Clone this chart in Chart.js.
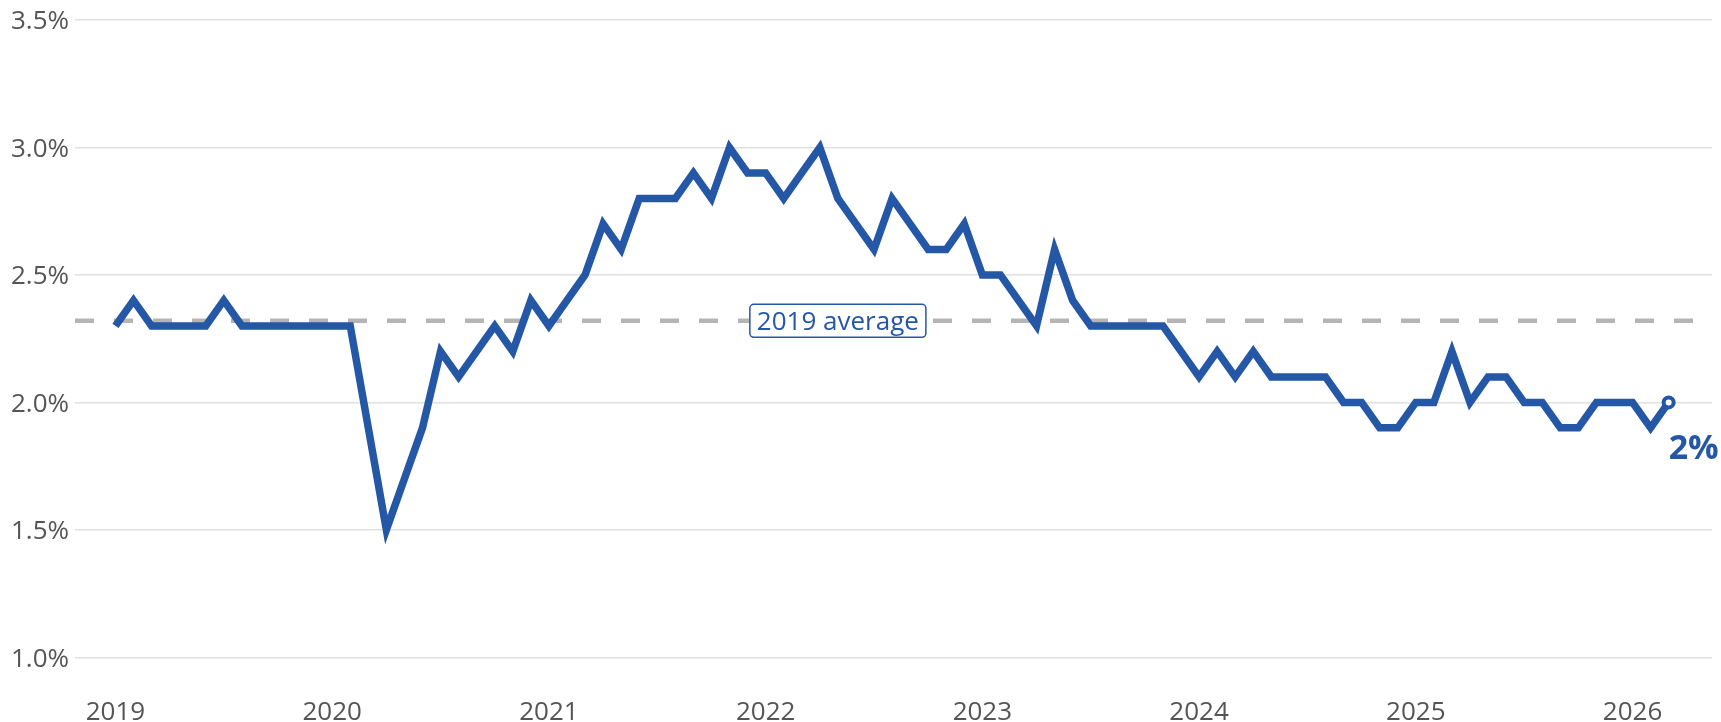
<!DOCTYPE html>
<html>
<head>
<meta charset="utf-8">
<title>Monthly rate since 2019</title>
<script src="https://cdn.jsdelivr.net/npm/chart.js@4.4.1/dist/chart.umd.min.js"></script>
<style>
  html, body { margin: 0; padding: 0; background: #fff; }
  #wrap { width: 1721px; height: 722px; }
</style>
</head>
<body>
<div id="wrap"><canvas id="chart" width="1721" height="722"></canvas></div>
<script>
// ====== DATA (monthly, Jan 2019 .. Mar 2026) ======
const YEAR_LABELS = ['2019', '2020', '2021', '2022', '2023', '2024', '2025', '2026'];
const V2019 = [2.3, 2.4, 2.3, 2.3, 2.3, 2.3, 2.4, 2.3, 2.3, 2.3, 2.3, 2.3];
const V2020 = [2.3, 2.3, 1.9, 1.5, 1.7, 1.9, 2.2, 2.1, 2.2, 2.3, 2.2, 2.4];
const V2021 = [2.3, 2.4, 2.5, 2.7, 2.6, 2.8, 2.8, 2.8, 2.9, 2.8, 3.0, 2.9];
const V2022 = [2.9, 2.8, 2.9, 3.0, 2.8, 2.7, 2.6, 2.8, 2.7, 2.6, 2.6, 2.7];
const V2023 = [2.5, 2.5, 2.4, 2.3, 2.6, 2.4, 2.3, 2.3, 2.3, 2.3, 2.3, 2.2];
const V2024 = [2.1, 2.2, 2.1, 2.2, 2.1, 2.1, 2.1, 2.1, 2.0, 2.0, 1.9, 1.9];
const V2025 = [2.0, 2.0, 2.2, 2.0, 2.1, 2.1, 2.0, 2.0, 1.9, 1.9, 2.0, 2.0];
const V2026 = [2.0, 1.9, 2.0];

const AVG_2019    = 2.32;
const AVG_LABEL   = '2019 average';
const AVG_LABEL_AT = 40;      // month index where the label box sits
const LAST_LABEL  = '2%';

// ====== STYLE ======
const BLUE = '#2557a7';
const GREY_TEXT = '#555555';
const X_MIN = -2.24;
const X_MAX = 88.4;

// ====== BUILD ======
const values = [].concat(V2019, V2020, V2021, V2022, V2023, V2024, V2025, V2026);
const series = values.map((v, i) => ({ x: i, y: v }));
const avgLine = [{ x: X_MIN, y: AVG_2019 }, { x: X_MAX, y: AVG_2019 }];
const lastIdx = series.length - 1;

const annotations = {
  id: 'annotations',
  afterDatasetsDraw(chart) {
    const { ctx, scales: { x, y } } = chart;
    ctx.save();

    // "2019 average" box on the dashed line
    ctx.font = '26px "Open Sans"';
    const tw = ctx.measureText(AVG_LABEL).width;
    const cx = x.getPixelForValue(AVG_LABEL_AT);
    const cy = y.getPixelForValue(AVG_2019);
    const w = tw + 14, h = 33;
    ctx.beginPath();
    ctx.roundRect(cx - w / 2, cy - h / 2, w, h, 4);
    ctx.fillStyle = '#fff';
    ctx.fill();
    ctx.lineWidth = 1.5;
    ctx.strokeStyle = BLUE;
    ctx.stroke();
    ctx.fillStyle = BLUE;
    ctx.textAlign = 'center';
    ctx.textBaseline = 'middle';
    ctx.fillText(AVG_LABEL, cx, cy + 1.5);

    // end value label
    const pt = chart.getDatasetMeta(0).data[lastIdx];
    ctx.font = 'bold 34px "Open Sans"';
    ctx.textAlign = 'left';
    ctx.textBaseline = 'alphabetic';
    ctx.fillText(LAST_LABEL, pt.x, pt.y + 57);

    ctx.restore();
  }
};

new Chart(document.getElementById('chart').getContext('2d'), {
  type: 'line',
  data: {
    datasets: [
      {
        data: series,
        borderColor: BLUE,
        borderWidth: 7.5,
        tension: 0,
        borderJoinStyle: 'miter',
        pointRadius: c => (c.dataIndex === lastIdx ? 5 : 0),
        pointBackgroundColor: '#fff',
        pointBorderColor: BLUE,
        pointBorderWidth: 4
      },
      {
        data: avgLine,
        borderColor: '#b5b5b5',
        borderWidth: 4.5,
        borderDash: [19, 20],
        pointRadius: 0
      }
    ]
  },
  options: {
    responsive: false,
    animation: false,
    devicePixelRatio: 1,
    layout: { padding: { left: 11, right: 8, top: 20, bottom: 0 } },
    plugins: { legend: { display: false }, tooltip: { enabled: false } },
    scales: {
      x: {
        type: 'linear',
        min: X_MIN,
        max: X_MAX,
        grid: { display: false, drawTicks: false },
        border: { display: false },
        afterBuildTicks: s => { s.ticks = YEAR_LABELS.map((_, i) => ({ value: i * 12 })); },
        afterFit: s => { s.height = 64.7; },
        ticks: {
          padding: 40,
          maxRotation: 0,
          autoSkip: false,
          color: GREY_TEXT,
          font: { family: 'Open Sans', size: 26 },
          callback: v => YEAR_LABELS[v / 12]
        }
      },
      y: {
        min: 1,
        max: 3.5,
        grid: { color: '#e1e1e1', lineWidth: 1.5, drawTicks: false },
        border: { display: false },
        afterFit: s => { s.width = 64; },
        ticks: {
          stepSize: 0.5,
          crossAlign: 'far',
          labelOffset: 2,
          color: GREY_TEXT,
          font: { family: 'Open Sans', size: 26 },
          callback: v => v.toFixed(1) + '%'
        }
      }
    }
  },
  plugins: [annotations]
});
</script>
</body>
</html>
